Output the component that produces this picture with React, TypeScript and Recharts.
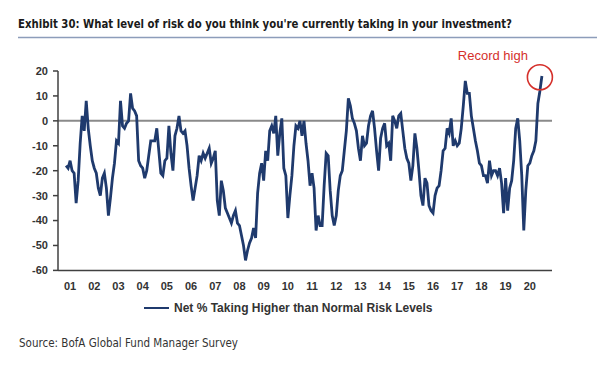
import { LineChart, Line, XAxis, YAxis, ReferenceLine, ReferenceDot } from "recharts"

// months counted from Jan 2001; the survey series starts May 2001
const firstMonth = 4

// net % taking higher than normal risk, one row per year (2001 starts in May, 2021 = Jan only)
const y2001 = [-18, -19, -16, -20, -21, -33, -24, -9]
const y2002 = [2, -4, 8, -3, -10, -16, -19, -21, -27, -30, -23, -21]
const y2003 = [-27, -38, -31, -23, -17, -8, -9, 8, -2, -3, -1, 0]
const y2004 = [11, 5, 4, 2, -16, -18, -19, -23, -20, -14, -8, -8]
const y2005 = [-8, -3, -12, -21, -22, -16, -15, -2, -13, -20, -6, -3]
const y2006 = [2, -4, -5, -4, -10, -19, -26, -32, -27, -22, -14, -16]
const y2007 = [-13, -15, -13, -11, -17, -15, -12, -32, -38, -24, -28, -35]
const y2008 = [-37, -39, -41, -38, -36, -41, -42, -46, -50, -56, -52, -49]
const y2009 = [-47, -43, -47, -29, -21, -17, -24, -12, -16, -4, -2, -5]
const y2010 = [2, -14, -5, 1, -19, -22, -39, -30, -22, -10, -2, -3]
const y2011 = [0, -6, 0, -9, -16, -26, -21, -27, -44, -38, -42, -42]
const y2012 = [-26, -13, -14, -28, -38, -42, -38, -28, -22, -20, -12, -4]
const y2013 = [9, 6, 1, -1, -4, -11, -16, -6, -10, -9, -2, 2]
const y2014 = [4, -3, -12, -20, -7, -3, -1, -10, -9, -16, 2, 0]
const y2015 = [-3, 2, 3, -4, -11, -15, -17, -24, -18, -5, -11, -20]
const y2016 = [-30, -34, -23, -25, -34, -36, -37, -30, -27, -26, -20, -12]
const y2017 = [-11, -3, -5, 1, -10, -8, -10, -9, -3, 6, 16, 11]
const y2018 = [11, 2, -3, -8, -12, -17, -18, -22, -22, -25, -16, -22]
const y2019 = [-20, -20, -22, -19, -25, -37, -23, -36, -27, -24, -16, -3]
const y2020 = [1, -8, -22, -44, -28, -18, -17, -14, -12, -8, 7, 12]
const y2021 = [18]

const riskTaking = [
  ...y2001, ...y2002, ...y2003, ...y2004, ...y2005, ...y2006, ...y2007,
  ...y2008, ...y2009, ...y2010, ...y2011, ...y2012, ...y2013, ...y2014,
  ...y2015, ...y2016, ...y2017, ...y2018, ...y2019, ...y2020, ...y2021,
]

const yearLabels = ["01", "02", "03", "04", "05", "06", "07", "08", "09", "10",
  "11", "12", "13", "14", "15", "16", "17", "18", "19", "20"]
const yTicks = [-60, -50, -40, -30, -20, -10, 0, 10, 20]

const data = riskTaking.map((value, i) => ({ month: firstMonth + i, value }))
const yearStarts = [...yearLabels.map((_, i) => i * 12), yearLabels.length * 12]
const yearMids = yearLabels.map((_, i) => i * 12 + 6)
const lastPoint = data[data.length - 1]

const navy = "#1f3a6d"
const axisGrey = "#404040"
const red = "#d5302b"
const sans = "Liberation Sans, Arial, sans-serif"
const condensed = "'DejaVu Sans Condensed', 'Liberation Sans', sans-serif"
const tickFont = { fontSize: 11, fontWeight: 700, fill: "#333", fontFamily: sans }

function RecordLabel(props: any) {
  const vb = props.viewBox || {}
  const cx = vb.x + vb.width / 2
  const cy = vb.y + vb.height / 2
  return (
    <text x={cx - 47} y={cy - 17} textAnchor="middle" fill={red} fontSize={13} fontFamily={sans}>
      Record high
    </text>
  )
}

export default function App() {
  return (
    <div style={{ position: "absolute", left: 0, top: 0, width: 608, height: 375, background: "#fff" }}>
      <svg width={608} height={375} style={{ position: "absolute", left: 0, top: 0 }}>
        <text x={18} y={28} fontFamily={condensed} fontWeight={700} fontSize={12.8} fill="#1a1a1a"
          textLength={494} lengthAdjust="spacingAndGlyphs">
          Exhibit 30: What level of risk do you think you're currently taking in your investment?
        </text>
        <line x1={18} x2={597} y1={37.5} y2={37.5} stroke="#8d9dba" strokeWidth={1.5} />
        <text x={19} y={347} fontFamily={condensed} fontSize={12.5} fill="#333"
          textLength={219} lengthAdjust="spacingAndGlyphs">
          Source: BofA Global Fund Manager Survey
        </text>
      </svg>

      <div style={{ position: "absolute", left: 0, top: 0 }}>
        <LineChart width={608} height={300} data={data} margin={{ top: 71, right: 56, left: 0, bottom: 0 }}>
          <XAxis xAxisId="m" dataKey="month" type="number" domain={[0, 245]} allowDataOverflow
            ticks={yearStarts} tick={false} tickSize={6} height={4}
            stroke={axisGrey} strokeWidth={1.5} />
          <XAxis xAxisId="yr" dataKey="month" type="number" domain={[0, 245]} allowDataOverflow
            ticks={yearMids} interval={0} tickFormatter={(v: number) => yearLabels[(v - 6) / 12]}
            axisLine={false} tickLine={false} height={25.6} tick={tickFont} />
          <YAxis domain={[-60, 20]} ticks={yTicks} interval={0} width={58} tickSize={5} tickMargin={5}
            stroke={axisGrey} strokeWidth={1.5} tick={tickFont} allowDataOverflow />
          <ReferenceLine xAxisId="m" y={0} stroke="#8a8a8a" strokeWidth={2} />
          <Line xAxisId="m" type="linear" dataKey="value" stroke={navy} strokeWidth={2.8}
            dot={false} isAnimationActive={false} />
          <ReferenceDot xAxisId="m" x={lastPoint.month - 1} y={17.5} r={12.5} fill="none"
            stroke={red} strokeWidth={1.6} label={RecordLabel} />
        </LineChart>
      </div>

      <div style={{ position: "absolute", left: 144, top: 300, display: "flex", alignItems: "center", height: 16 }}>
        <span style={{ display: "inline-block", width: 25, height: 0, borderTop: `2.8px solid ${navy}`, marginRight: 5 }} />
        <span style={{ fontFamily: sans, fontWeight: 700, fontSize: 12, color: "#333", whiteSpace: "nowrap" }}>
          Net % Taking Higher than Normal Risk Levels
        </span>
      </div>
    </div>
  )
}
